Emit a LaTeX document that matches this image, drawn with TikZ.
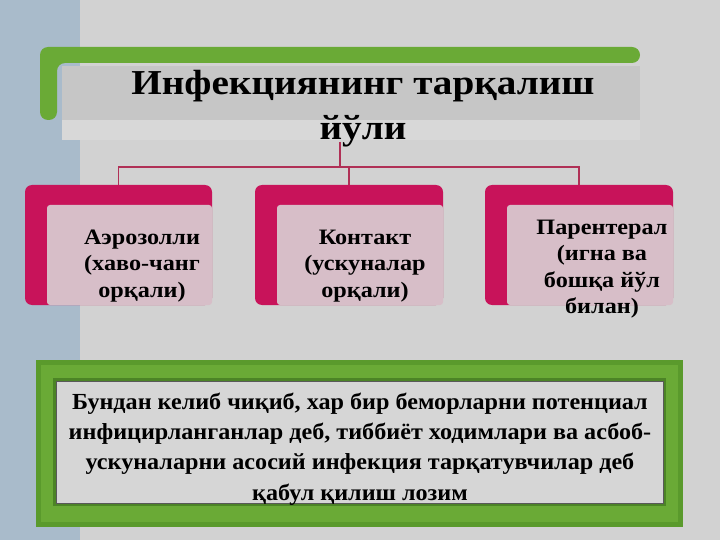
\documentclass[tikz,border=0pt]{standalone}
\usepackage{fontspec}
\setmainfont{Liberation Serif}
\newfontfamily\titlefont[FakeStretch=1.12]{Liberation Serif}
\newfontfamily\boxfont[FakeStretch=1.1]{Liberation Serif}
\newfontfamily\notefont[FakeStretch=1.05]{Liberation Serif}
\begin{document}
\begin{tikzpicture}[x=1pt,y=-1pt,
  every node/.style={inner sep=0pt, outer sep=0pt},
  redframe/.style={fill=framered, draw=none, rounded corners=7pt},
  pinkfill/.style={fill=innerpink, draw=none, rounded corners=3pt},
  boxtext/.style={font=\boxfont\bfseries\fontsize{22}{26.3}\selectfont, align=center, text=black},
  conn/.style={draw=connred, line width=1.3pt},
]
\definecolor{bg}{HTML}{D2D2D2}
\definecolor{strip}{HTML}{A9BBCB}
\definecolor{titlegray}{HTML}{C6C6C6}
\definecolor{lightband}{HTML}{D8D8D8}
\definecolor{green1}{HTML}{6AAA36}
\definecolor{green2}{HTML}{5A9A2C}
\definecolor{green3}{HTML}{4C8426}
\definecolor{framered}{HTML}{C8135A}
\definecolor{innerpink}{HTML}{D7BEC8}
\definecolor{connred}{HTML}{B03056}
\definecolor{boxgray}{HTML}{D6D6D6}
\useasboundingbox (0,0) rectangle (720,540);
\fill[bg] (0,0) rectangle (720,540);
\fill[strip] (0,0) rectangle (80,540);
% title block
\fill[titlegray] (62,66) rectangle (640,120);
\fill[lightband] (62,120) rectangle (640,140);
\fill[green1, rounded corners=8pt] (40,120) -- (40,47) -- (640,47) -- (640,63) -- (57,63) -- (57,120) -- cycle;
\node[font=\titlefont\bfseries\fontsize{35}{45}\selectfont, align=center] (title) at (363,109) {Инфекциянинг тарқалиш\\йўли};
% three boxes
\path[redframe] (25,185) rectangle (212,305);
\path[pinkfill] (47,205) rectangle (212,305);
\path[redframe] (255,185) rectangle (443,305);
\path[pinkfill] (277,205) rectangle (443,305);
\path[redframe] (485,185) rectangle (673,305);
\path[pinkfill] (507,205) rectangle (673,305);
\node[minimum width=187pt, minimum height=120pt] (b1) at (118.5,245) {};
\node[minimum width=188pt, minimum height=120pt] (b2) at (349,245) {};
\node[minimum width=188pt, minimum height=120pt] (b3) at (579,245) {};
\node[boxtext] (t1) at (142,266) {Аэрозолли\\(хаво-чанг\\орқали)};
\node[boxtext] (t2) at (365,266) {Контакт\\(ускуналар\\орқали)};
\node[boxtext] (t3) at (602,269) {Парентерал\\(игна ва\\бошқа йўл\\билан)};
% connectors
\coordinate (root) at (340,142);
\coordinate (bus) at (340,167);
\draw[conn] (root) -- (bus);
\draw[conn] (b1.north) |- (bus) -| (b3.north);
\draw[conn] (b2.north) -- (b2.north |- bus);
% bottom block
\fill[green2] (36,360) rectangle (683,527);
\fill[green1] (41,365) rectangle (678,522);
\fill[green3] (53,378) rectangle (666,506);
\fill[boxgray] (56,381) rectangle (663,503);
\draw[gray!70!black, line width=0.6pt] (56,381) rectangle (663,503);
\node[font=\notefont\bfseries\fontsize{23}{30.3}\selectfont, align=center] (note) at (360,449)
 {Бундан келиб чиқиб, хар бир беморларни потенциал\\инфицирланганлар деб, тиббиёт ходимлари ва асбоб-\\ускуналарни асосий инфекция тарқатувчилар деб\\қабул қилиш лозим};
\end{tikzpicture}
\end{document}
